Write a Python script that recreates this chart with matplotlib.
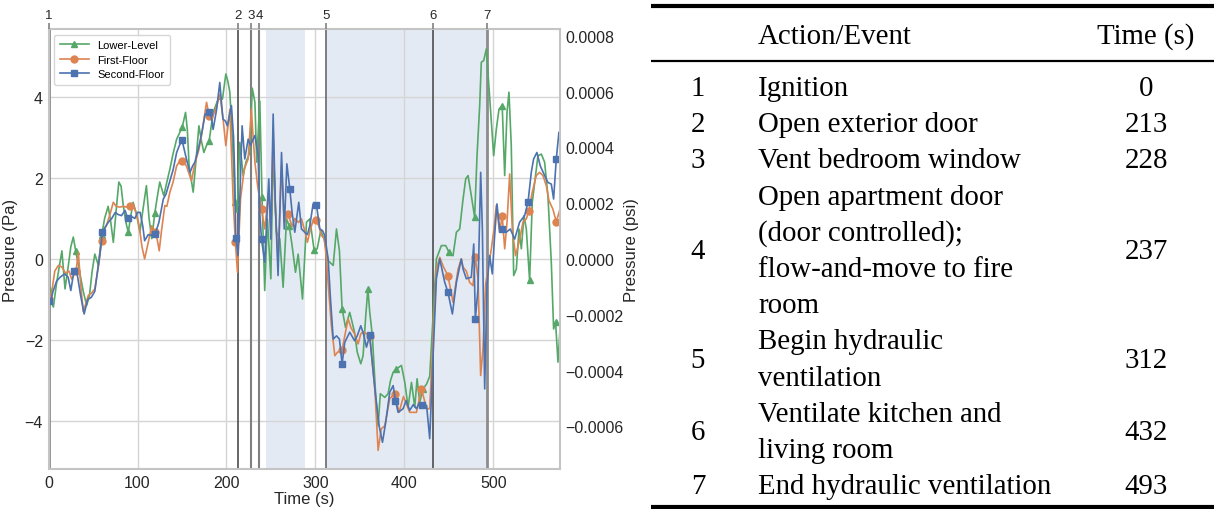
import numpy as np
import matplotlib
matplotlib.use("Agg")
import matplotlib.pyplot as plt
from matplotlib.ticker import FuncFormatter

# events (id, time) and table text
event_ids = ["1", "2", "3", "4", "5", "6", "7"]
event_times = [0, 213, 228, 237, 312, 432, 493]
event_text = ["Ignition",
              "Open exterior door",
              "Vent bedroom window",
              "Open apartment door\n(door controlled);\nflow-and-move to fire\nroom",
              "Begin hydraulic\nventilation",
              "Ventilate kitchen and\nliving room",
              "End hydraulic ventilation"]
table_header = ["", "Action/Event", "Time (s)"]

# shaded time windows (s)
shade_windows = [(244, 288), (312, 493)]

# Lower-Level pressure (Pa)
lower_t = [0, 2.5, 5.4, 9, 12.9, 15, 18.5, 22, 25, 27.8, 30.5, 35, 39, 42.8, 46, 49, 52, 56, 59.7,
           63, 67, 70, 72.8, 76, 79, 81.5, 84, 87, 89.6, 92, 95, 99, 102.7, 106, 110, 113, 116,
           119.5, 122, 125, 129.6, 133, 136.4, 140, 144, 147, 150.2, 154, 156, 158, 162.6, 166,
           169, 172, 174.6, 177.5, 180.6, 185, 190.7, 195.5, 199.3, 201.5, 203.8, 206.8, 209.4,
           212, 215, 218.8, 222, 226.3, 229, 232, 234, 237.5, 240, 243, 246, 249.9, 252.5, 256.2,
           260, 263.7, 267.5, 270.5, 273.8, 277.6, 280.6, 285.5, 290, 293.7, 298.6, 302, 306,
           309.8, 314.3, 317, 320, 323.7, 327, 330, 333.8, 338.6, 344, 347, 351, 353.6, 356.6,
           359, 361.1, 364, 368, 370.5, 373, 378, 381.7, 384.5, 387.4, 391.1, 396.7, 400.5,
           404.2, 408, 411.7, 414.3, 417.3, 421, 425, 428.5, 432.3, 436, 441.6, 446.5, 450.3,
           454.7, 458.5, 462.2, 466, 469, 471.6, 475.3, 479, 481.7, 484.7, 486.5, 489.2, 492.2,
           495, 497.8, 500.4, 503.4, 506.4, 510, 512.8, 515.4, 517.6, 520.2, 522.9, 525.9, 528.9,
           531.5, 534.5, 537.1, 540.8, 543.8, 546.5, 550.2, 554, 557.7, 561.4, 565.2, 567.8, 570,
           572.7, 575]
lower_p = [-0.75, -1.0, -1.19, -0.6, -0.08, 0.2, -0.74, -0.2, 0.3, 0.54, 0.2, -0.33, -0.8, -1.15,
           -0.9, -0.3, 0.12, -0.16, 0.58, 1.0, 1.3, 0.9, 0.41, 1.2, 1.9, 1.8, 1.32, 0.9, 0.66, 1.0,
           1.4, 1.1, 0.66, 1.2, 1.81, 1.0, 0.5, 1.14, 1.5, 1.9, 1.56, 1.9, 2.22, 2.6, 2.96, 3.1,
           3.25, 3.62, 3.2, 2.3, 1.65, 2.5, 3.29, 2.9, 2.63, 2.8, 2.92, 3.62, 3.95, 3.95, 4.57,
           4.4, 4.12, 2.88, 1.4, 1.15, 2.88, 2.06, 2.4, 2.63, 4.22, 3.87, 2.39, 3.9, 1.52, -0.78,
           0.99, -0.49, 2.67, 0.66, 0.49, -0.7, 0.99, 0.82, 0.33, -0.33, 0.12, -0.99, 0.91, 0.99,
           0.21, 0.25, 0.7, 0.49, -0.04, -0.1, -0.16, 0.74, 0.2, -1.23, -1.69, -1.32, -1.81, -2.3,
           -2.59, -2.39, -1.4, -0.74, -1.32, -1.89, -3.46, -4.12, -3.33, -3.42, -3.33, -3.0, -2.8,
           -2.72, -2.63, -3.05, -3.66, -3.05, -3.66, -2.96, -3.54, -3.21, -3.09, -2.9, -1.4, 0.0,
           0.33, 0.33, 0.16, 0.08, 0.66, 0.74, 1.48, 1.98, 2.06, 1.56, 1.03, 2.55, 3.79, 4.86,
           4.9, 5.19, 4.28, 3.37, 2.55, 3.21, 3.7, 3.79, 2.06, 3.62, 4.12, 2.8, -0.41, -0.25,
           0.74, 0.25, 1.07, 0.74, -0.53, 1.4, 1.89, 2.55, 2.59, 2.39, 1.56, -0.08, -1.73, -1.56,
           -2.55, -1.73]

# First-Floor pressure (Pa)
first_t = [0, 3, 7, 11, 15, 19, 23, 26, 30.8, 33.5, 36, 39, 42, 44.7, 48, 52, 56, 59.6, 62, 65,
           69, 72.8, 76, 80, 84, 87.7, 91, 95, 99, 102, 105, 108, 112, 116, 119.5, 122, 124.4,
           127, 130.7, 133, 136.4, 140, 144, 147, 150.2, 153, 155, 158, 160.7, 163, 166, 169, 172,
           175, 177.6, 180.6, 184, 188, 192.5, 196, 199.3, 203.8, 207.5, 210, 212.4, 215.8, 220,
           224.4, 228, 230, 232, 235, 239.4, 243, 247.6, 250, 252.5, 255, 258, 262, 265, 269.4,
           273.8, 277, 281, 284.3, 288, 291, 294, 297.4, 301, 304, 306.8, 310, 312.4, 315, 318,
           321.8, 325, 330, 333, 336.8, 340, 344, 348, 351, 354, 357.4, 361, 366.8, 370.5, 374,
           378, 383.6, 389.2, 394, 399, 406, 413.6, 419.2, 425, 428.5, 432.3, 436, 439.8, 444,
           449, 454.7, 460.4, 464, 466, 469.7, 473.4, 477.2, 479.8, 482.8, 485.8, 488.4, 491.4,
           494, 497.8, 500.8, 503.4, 507.1, 510, 512.8, 515.4, 518.4, 521.4, 525, 528.9, 533.4,
           537.1, 540, 543.8, 548.3, 552, 555.8, 559.6, 562.6, 567, 570.8, 575]
first_p = [-1.0, -0.9, -0.3, -0.16, -0.2, -0.35, -0.3, -0.5, -0.31, 0.16, -0.6, -1.3, -1.1, -0.9,
           -0.85, -0.74, -0.2, 0.45, 0.7, 0.82, 1.1, 1.4, 1.3, 1.28, 1.3, 1.28, 1.3, 1.35, 1.1,
           0.8, 0.3, 0.0, 0.4, 0.82, 0.66, 0.5, 0.2, 0.7, 1.32, 1.3, 1.65, 1.9, 2.3, 2.4, 2.43,
           2.35, 2.3, 2.1, 1.93, 2.2, 2.47, 2.7, 3.05, 3.5, 3.87, 3.54, 3.5, 3.7, 4.07, 3.5, 2.8,
           3.7, 1.48, 0.43, -0.33, 1.48, 2.22, 2.47, 3.7, 3.0, 2.39, 1.81, 1.23, 0.74, 1.7, 0.6,
           3.13, 1.2, 0.0, 2.3, 0.9, 1.11, 0.8, 1.0, 0.9, 0.99, 0.7, 0.41, 0.7, 0.95, 0.95, 0.8,
           0.58, 0.5, 0.0, -0.8, -1.65, -2.39, -2.3, -2.26, -1.9, -1.48, -1.7, -1.85, -2.1, -1.85,
           -1.8, -1.85, -1.9, -3.2, -4.73, -4.2, -4.12, -3.45, -3.33, -3.79, -3.4, -3.79, -3.79,
           -3.21, -3.7, -3.7, -1.9, -0.25, 0.04, -0.2, -0.41, -1.07, -0.25, 0.0, -0.2, -0.3, -0.58,
           -0.66, 0.04, -0.49, -2.88, -2.22, -0.62, -0.25, 0.25, 0.74, 1.32, 0.66, 1.07, 0.25, 0.9,
           2.1, 0.74, 0.08, 0.41, 0.91, 0.99, 1.19, 1.65, 2.06, 2.14, 2.06, 1.81, 1.44, 1.23, 0.92,
           1.23]

# Second-Floor pressure (Pa)
second_t = [0, 2, 5, 9, 13, 18, 22, 25, 28.5, 32, 36, 40, 44, 48, 52, 55, 58, 60.5, 64, 67, 71,
            75, 78, 82, 86, 89, 93, 97, 100, 103, 106, 108, 112, 116, 120, 124, 129, 132, 136, 140,
            144, 147, 150, 155, 159, 162, 164.5, 167, 170, 173, 176, 180.6, 183, 185, 189, 192.5,
            196, 199, 201, 205.6, 208, 209.4, 210.5, 213, 215, 217.6, 220.6, 224.4, 227, 230, 232,
            235.6, 237.5, 239.4, 243, 247.6, 249.9, 252.5, 255, 258, 261.9, 265, 267.9, 271.2,
            273.8, 276.8, 281.3, 284.3, 288, 291, 293.7, 297.4, 301.2, 305, 308, 310.5, 314.3, 317,
            320, 323.7, 327, 330, 333, 338.6, 344, 347, 351, 354, 357.4, 361, 366.8, 371.6, 375.4,
            379.1, 383.6, 387.4, 390, 393, 398.6, 402, 406, 410, 413.6, 417, 420, 425, 428.5,
            432.3, 436, 439.8, 445.4, 449, 454, 458.5, 464, 466, 469.7, 475.3, 478, 479.8, 482.8,
            485.8, 487.7, 490.3, 492.9, 495.9, 498.9, 501.5, 504.1, 507.1, 510, 514.6, 519.1, 524,
            529.6, 535.2, 539, 542.7, 545.3, 549, 552.8, 557.7, 561.4, 565.2, 567.8, 570.8, 573.8,
            575]
second_p = [-1.05, -1.1, -0.8, -0.55, -0.45, -0.37, -0.45, -0.78, -0.31, -0.35, -0.9, -1.36, -1.0,
            -0.95, -0.8, -0.3, 0.16, 0.66, 0.8, 0.9, 1.0, 1.15, 1.1, 1.07, 1.2, 1.0, 1.05, 1.0,
            1.15, 1.15, 0.8, 0.45, 0.6, 0.58, 0.62, 0.9, 1.48, 1.6, 1.9, 2.2, 2.63, 2.8, 2.94, 2.47,
            2.14, 2.3, 2.39, 2.6, 2.88, 3.2, 3.58, 3.62, 3.5, 3.2, 3.7, 4.36, 3.46, 3.4, 3.29, 3.79,
            3.0, 1.98, 0.52, 0.08, 1.48, 3.29, 2.47, 2.96, 2.8, 2.96, 3.05, 2.55, 1.11, 0.49, -0.08,
            1.98, 0.49, 3.58, 1.32, -0.41, 2.63, 0.74, 2.35, 1.73, 1.15, 0.66, 1.4, 0.74, 0.66, 0.6,
            0.82, 1.36, 1.33, 0.74, 0.7, 0.58, 0.0, -1.0, -1.98, -1.9, -1.98, -2.59, -2.06, -1.81,
            -2.02, -1.9, -1.65, -1.85, -2.18, -1.89, -3.2, -4.12, -4.53, -4.03, -3.29, -3.13, -3.5,
            -3.79, -3.7, -3.5, -3.74, -3.6, -3.7, -3.55, -3.62, -3.62, -4.44, -2.39, -0.49, 0.0,
            -0.58, -0.82, -1.36, -0.58, 0.0, -0.25, -0.49, -0.45, 0.37, -1.48, -0.74, 2.14, 0.74,
            -3.21, -0.66, 0.08, -0.37, 0.58, 1.36, 0.74, 0.74, 0.66, 0.74, 0.49, 0.91, 1.07, 1.4,
            2.14, 2.47, 2.63, 2.3, 2.06, 1.89, 1.85, 1.48, 2.47, 3.13, 3.0]

PA_TO_PSI = 0.000145038

plt.rcParams['font.family'] = ['Liberation Sans', 'DejaVu Sans']
fig = plt.figure(figsize=(12.14, 5.1), dpi=100)

# table drawn in pixel coordinates on a full-figure axes
tax = fig.add_axes([0, 0, 1, 1])
tax.set_xlim(0, 1214)
tax.set_ylim(510, 0)
tax.axis("off")
serif = dict(family=['Liberation Serif', 'DejaVu Serif'], size=20.8)
tax.plot([651, 1214], [6.5, 6.5], color='k', lw=3.0, solid_capstyle='butt')
tax.plot([651, 1214], [62, 62], color='k', lw=1.6, solid_capstyle='butt')
tax.plot([651, 1214], [507.5, 507.5], color='k', lw=3.0, solid_capstyle='butt')
tax.text(758, 37, table_header[1], va='center', ha='left', **serif)
tax.text(1146, 37, table_header[2], va='center', ha='center', **serif)
line_h = 36.2
y = 89
for num, txt, tm in zip(event_ids, event_text, event_times):
    lines = txt.split("\n")
    for k, ln in enumerate(lines):
        tax.text(758, y + k * line_h, ln, va='center', ha='left', **serif)
    yc = y + (len(lines) - 1) * line_h / 2
    tax.text(698, yc, num, va='center', ha='center', **serif)
    tax.text(1146, yc, str(tm), va='center', ha='center', **serif)
    y += len(lines) * line_h

# pressure plot
ax = fig.add_axes([0.040, 0.0784, 0.4213, 0.8627])
grid_c = '#d5d5d5'
spine_c = '#c4c4c4'
for a, b in shade_windows:
    ax.axvspan(a, b, color='#4C72B0', alpha=0.15, lw=0, zorder=0.2)
ax.set_axisbelow(True)
ax.grid(True, color=grid_c, lw=1.0)

series = [("Lower-Level", lower_t, lower_p, '#55A868', '^'),
          ("First-Floor", first_t, first_p, '#DD8452', 'o'),
          ("Second-Floor", second_t, second_p, '#4C72B0', 's')]
for name, t, p, c, m in series:
    t = np.array(t)
    marks = [int(np.argmin(np.abs(t - s))) for s in range(0, 576, 30)]
    ax.plot(t, p, color=c, lw=1.2, marker=m, ms=5, markevery=marks, label=name)

line_cols = ['0.55', '0.3', '0.5', '0.5', '0.45', '0.3', '0.55']
line_ws = [2.0, 1.2, 1.5, 1.5, 1.3, 1.2, 2.0]
for tv, c, w in zip(event_times, line_cols, line_ws):
    ax.axvline(tv, color=c, lw=w, zorder=1.5)

ax.set_xlim(0, 575)
ax.set_ylim(-5.19, 5.68)
ax.set_xticks([0, 100, 200, 300, 400, 500])
ax.set_yticks([-4, -2, 0, 2, 4])
ax.tick_params(length=0, labelsize=11.5, colors='#262626', pad=4)
ax.set_xlabel("Time (s)", fontsize=12, color='#262626', labelpad=1)
ax.set_ylabel("Pressure (Pa)", fontsize=12, color='#262626', labelpad=5)
for s in ax.spines.values():
    s.set_color(spine_c)
    s.set_linewidth(1.5)
leg = ax.legend(loc='upper left', fontsize=8, frameon=True, handlelength=2.6,
                borderpad=0.5, labelspacing=0.4, fancybox=True)
leg.get_frame().set_edgecolor('#cccccc')

ax2 = ax.twinx()
lo, hi = ax.get_ylim()
ax2.set_ylim(lo * PA_TO_PSI, hi * PA_TO_PSI)
ax2.set_yticks([-0.0006, -0.0004, -0.0002, 0.0, 0.0002, 0.0004, 0.0006, 0.0008])
ax2.yaxis.set_major_formatter(FuncFormatter(lambda v, pos: f"{v:.4f}".replace("-", "\u2212")))
ax2.tick_params(length=0, labelsize=11.5, colors='#262626', pad=4)
ax2.set_ylabel("Pressure (psi)", fontsize=12, color='#262626', labelpad=0)
ax2.grid(False)
for s in ax2.spines.values():
    s.set_visible(False)

ax3 = ax.twiny()
ax3.set_xlim(ax.get_xlim())
ax3.set_xticks(event_times)
ax3.set_xticklabels(event_ids)
ax3.tick_params(length=4, width=1.2, labelsize=9.5, pad=2)
ax3.tick_params(axis='x', colors='0.5', labelcolor='#262626')
ax3.grid(False)
for s in ax3.spines.values():
    s.set_visible(False)

fig.savefig("out.png", dpi=100)
